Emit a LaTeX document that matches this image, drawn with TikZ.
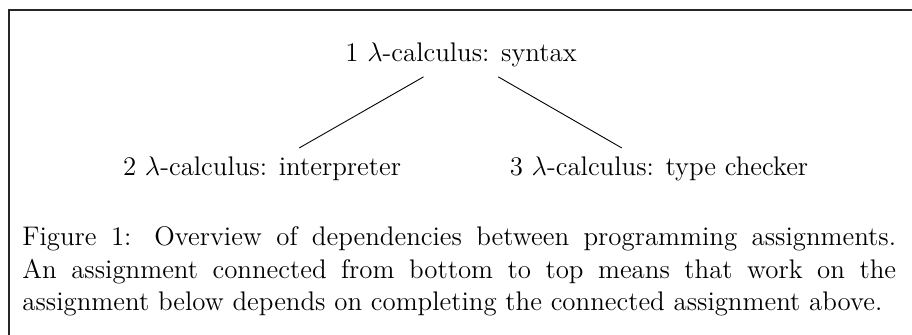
\documentclass[tikz,border=0pt]{standalone}
\begin{document}
\begin{tikzpicture}[x=0.4464pt,y=-0.4464pt,
  font=\fontsize{12}{14.5}\selectfont,
  item/.style={anchor=base,inner sep=4pt},
  frameline/.style={line width=0.9pt,draw=black!85},
  link/.style={line width=0.4pt}]
\useasboundingbox (0,0) rectangle (912,335);
\coordinate (tl) at (9,10.5);
\coordinate (tr) at (913,10.5);
\coordinate (bl) at (9,336);
\draw[frameline] (tr) -- (tl) -- (bl);
\node[item] (n1) at (461,62) {1 $\lambda$-calculus: syntax};
\node[item] (n2) at (262,176) {2 $\lambda$-calculus: interpreter};
\node[item] (n3) at (659,176) {3 $\lambda$-calculus: type checker};
\draw[link] (n1) -- (n2);
\draw[link] (n1) -- (n3);
\node[anchor=base west,inner sep=0pt,text width=390pt,align=justify] (cap) at (22,246)
  {Figure 1: Overview of dependencies between programming assignments.\linebreak An assignment connected from bottom to top means that work on the\linebreak assignment below depends on completing the connected assignment above.};
\end{tikzpicture}
\end{document}
